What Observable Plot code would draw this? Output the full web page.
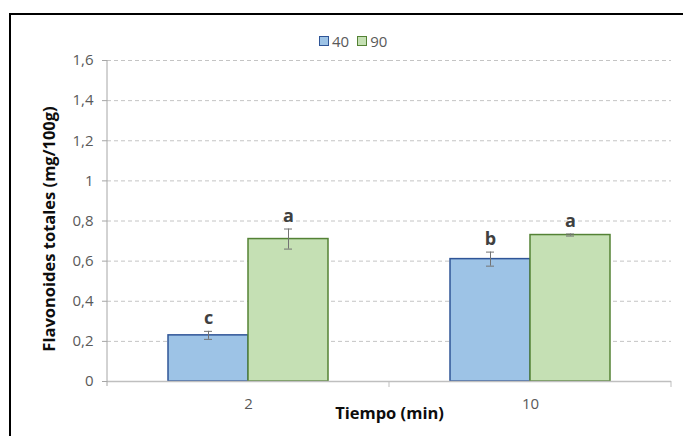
<!DOCTYPE html>
<html>
<head>
<meta charset="utf-8">
<script src="https://cdn.jsdelivr.net/npm/d3@7"></script>
<script src="https://cdn.jsdelivr.net/npm/@observablehq/plot@0.6"></script>
<style>
  body { margin: 0; background: #fff; font-family: "Open Sans", Lato, sans-serif; }
  #wrap { position: relative; width: 683px; height: 436px; overflow: hidden; background: #fff; }
  #frame { position: absolute; left: 9px; top: 13px; width: 720px; height: 480px; border-left: 2px solid #000; border-top: 2px solid #000; box-sizing: border-box; }
  #legend { position: absolute; top: 32px; left: 319px; display: flex; align-items: center; font-size: 15px; color: #595959; line-height: 18px; }
  #legend .sw { width: 8px; height: 8px; border: 1.5px solid; margin-right: 3px; }
  #legend .item { display: flex; align-items: center; margin-right: 8px; }
  #chart { position: absolute; top: 50px; left: 0; }
</style>
</head>
<body>
<div id="wrap">
  <div id="frame"></div>
  <div id="legend"></div>
  <div id="chart"></div>
</div>
<script>
// ---- data ----
const tiempo = ["2", "10"];
const temperaturas = ["40", "90"];
const valores40 = [0.23, 0.61];
const valores90 = [0.71, 0.73];
const error40 = [0.02, 0.035];
const error90 = [0.05, 0.005];
const letras40 = ["c", "b"];
const letras90 = ["a", "a"];
const yTicks = [0, 0.2, 0.4, 0.6, 0.8, 1, 1.2, 1.4, 1.6];
const rellenos = ["#9DC3E6", "#C5E0B4"];
const bordes = ["#2F5597", "#548235"];

const data = tiempo.flatMap((t, i) => [
  {tiempo: t, temp: temperaturas[0], valor: valores40[i], err: error40[i], letra: letras40[i]},
  {tiempo: t, temp: temperaturas[1], valor: valores90[i], err: error90[i], letra: letras90[i]}
]);

// legend
const legend = document.getElementById("legend");
temperaturas.forEach((t, i) => {
  const item = document.createElement("div");
  item.className = "item";
  const sw = document.createElement("div");
  sw.className = "sw";
  sw.style.background = rellenos[i];
  sw.style.borderColor = bordes[i];
  const lab = document.createElement("span");
  lab.textContent = t;
  item.appendChild(sw); item.appendChild(lab);
  legend.appendChild(item);
});

const fmt = d => String(d).replace(".", ",");

const chart = Plot.plot({
  width: 683,
  height: 386,
  marginTop: 10,
  marginBottom: 55,
  marginLeft: 107,
  marginRight: 12,
  style: {fontFamily: "'Open Sans', Lato, sans-serif", fontSize: "15px", color: "#595959", background: "transparent"},
  fx: {domain: tiempo, padding: 0},
  x: {domain: temperaturas, paddingInner: 0, paddingOuter: 0.75, axis: null},
  y: {domain: [0, 1.6]},
  color: {domain: temperaturas, range: rellenos},
  marks: [
    Plot.gridY(yTicks.filter(d => d > 0), {stroke: "#c4c4c4", strokeOpacity: 1, strokeDasharray: "4,3"}),
    Plot.barY(data, {fx: "tiempo", x: "temp", y: "valor", fill: "temp",
      stroke: d => bordes[temperaturas.indexOf(d.temp)], strokeWidth: 1.5}),
    Plot.ruleY([0], {stroke: "#bfbfbf", strokeWidth: 1.5}),
    Plot.ruleX(data, {fx: "tiempo", x: "temp", y1: d => d.valor - d.err, y2: d => d.valor + d.err, stroke: "#737373", strokeWidth: 1}),
    Plot.tickY(data, {fx: "tiempo", x: "temp", y: d => d.valor + d.err, stroke: "#737373", insetLeft: 36, insetRight: 36}),
    Plot.tickY(data, {fx: "tiempo", x: "temp", y: d => d.valor - d.err, stroke: "#737373", insetLeft: 36, insetRight: 36}),
    Plot.text(data, {fx: "tiempo", x: "temp", y: d => d.valor + d.err, text: "letra", lineAnchor: "bottom", dy: -7,
      fontWeight: "bold", fontSize: 18, fill: "#404040"}),
    Plot.axisY({ticks: yTicks, tickFormat: fmt, tickSize: 5, tickPadding: 9, stroke: "#a6a6a6", fill: "#595959",
      label: "Flavonoides totales (mg/100g)", labelAnchor: "center", labelOffset: 64, labelArrow: false}),
    Plot.axisFx({anchor: "bottom", tickSize: 0, tickPadding: 17, fill: "#595959",
      label: "Tiempo (min)", labelAnchor: "center", labelOffset: 37})
  ]
});
document.getElementById("chart").appendChild(chart);

// post-styling of axis titles and category boundary ticks, using the plot's own scales
const svg = d3.select(chart);
svg.selectAll('g[aria-label="y-axis label"] text, g[aria-label="fx-axis label"] text')
  .attr("font-weight", "bold").attr("fill", "#0d0d0d").style("font-size", "16.5px")
  .each(function() {
    const s = d3.select(this);
    s.selectAll("tspan").each(function() { this.textContent = this.textContent.replace(/\s*[↑→←↓]\s*/g, ""); });
    if (!this.querySelector("tspan")) this.textContent = this.textContent.replace(/\s*[↑→←↓]\s*/g, "");
  });
const yl = svg.select('g[aria-label="y-axis label"]');
yl.attr("transform", (yl.attr("transform") || "") + " translate(0,8)");

const fxs = chart.scale("fx");
const ys = chart.scale("y");
const y0 = ys.apply(0), yTop = ys.apply(1.6);
const leftX = fxs.apply(tiempo[0]);
const edges = [leftX, ...tiempo.map(t => fxs.apply(t) + fxs.bandwidth)];
const g = svg.append("g").attr("stroke", "#a6a6a6").attr("stroke-width", 1);
g.append("line").attr("x1", leftX).attr("x2", leftX).attr("y1", yTop).attr("y2", y0 + 5);
edges.slice(1).forEach(x => g.append("line").attr("x1", x).attr("x2", x).attr("y1", y0).attr("y2", y0 + 6).attr("stroke", "#bfbfbf"));
</script>
</body>
</html>
